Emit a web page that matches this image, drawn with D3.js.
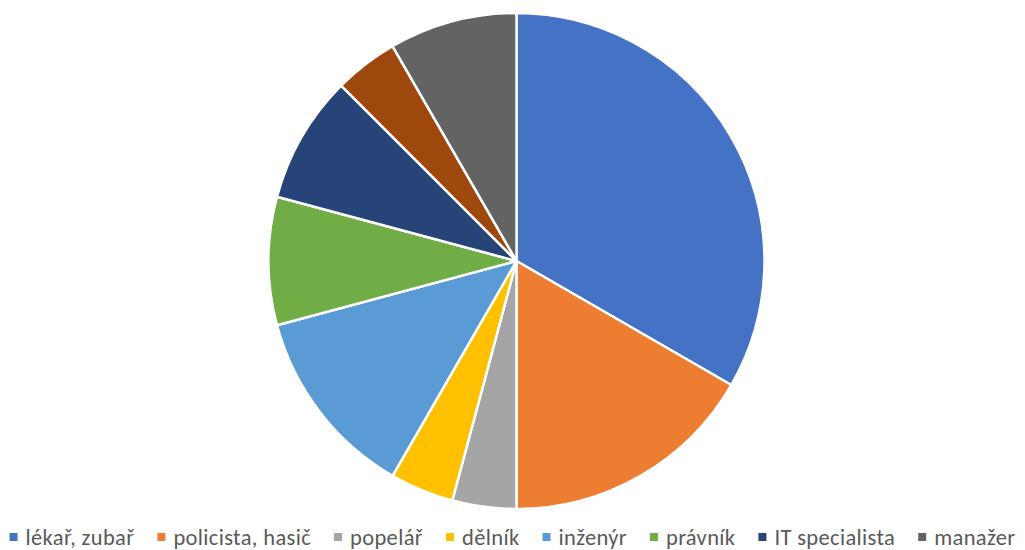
<!DOCTYPE html>
<html>
<head>
<meta charset="utf-8">
<script src="https://cdn.jsdelivr.net/npm/d3@7"></script>
<style>
  html, body { margin: 0; padding: 0; background: #fff; }
  svg { display: block; }
</style>
</head>
<body>
<svg id="chart" width="1025" height="550"></svg>
<script>
// Profession shares (in 24ths of the whole), clockwise from 12 o'clock
const categories = ["lékař, zubař", "policista, hasič", "popelář", "dělník", "inženýr", "právník", "IT specialista", "", "manažer"];
const values = [8, 4, 1, 1, 3, 2, 2, 1, 2];
const colors = ["#4472C4", "#ED7D31", "#A5A5A5", "#FFC000", "#5B9BD5", "#70AD47", "#264478", "#9E480E", "#636363"];

const svg = d3.select("#chart");
const W = 1025;
const cx = 516.5, cy = 261, radius = 248;

const data = categories.map((c, i) => ({ name: c, value: values[i], color: colors[i] }));

const pie = d3.pie().value(d => d.value).sort(null);
const arc = d3.arc().innerRadius(0).outerRadius(radius);

svg.append("g")
  .attr("transform", `translate(${cx},${cy})`)
  .selectAll("path")
  .data(pie(data))
  .join("path")
  .attr("d", arc)
  .attr("fill", d => d.data.color)
  .attr("stroke", "#fff")
  .attr("stroke-width", 2.5)
  .attr("stroke-linejoin", "round");

// Legend along the bottom, centred
const legendItems = data.filter(d => d.name !== "");
const legend = svg.append("g");
const fontSize = 22.5;
const sq = 8, sqGap = 8, itemGap = 23;
const items = legend.selectAll("g").data(legendItems).join("g");
items.append("rect")
  .attr("width", sq).attr("height", sq)
  .attr("y", -sq / 2)
  .attr("fill", d => d.color);
items.append("text")
  .attr("x", sq + sqGap)
  .attr("dy", "0.35em")
  .attr("font-family", "Carlito, Lato, 'Open Sans', sans-serif")
  .attr("font-size", fontSize)
  .attr("letter-spacing", 0.35)
  .attr("fill", "#595959")
  .text(d => d.name);

let x = 0;
const offsets = [];
items.each(function () {
  const w = sq + sqGap + d3.select(this).select("text").node().getComputedTextLength();
  offsets.push(x);
  x += w + itemGap;
});
const total = x - itemGap;
const startX = (W - total) / 2;
items.attr("transform", (d, i) => `translate(${startX + offsets[i]},537)`);
</script>
</body>
</html>
